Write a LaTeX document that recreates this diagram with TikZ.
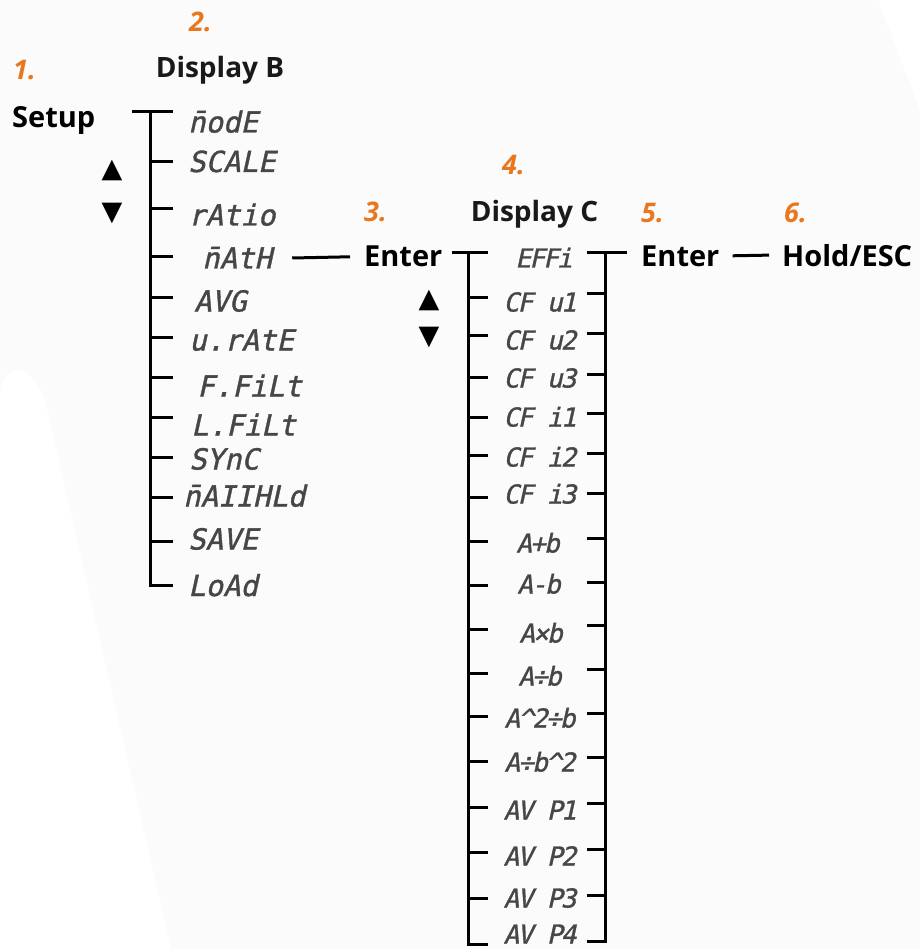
\documentclass[tikz,border=0pt]{standalone}
\usepackage{fontspec}
\setmainfont{Open Sans}
\newfontfamily\segfont{DejaVu Sans Mono}[FakeSlant=0.22,FakeBold=1.2]
\newfontfamily\segfontC{DejaVu Sans Mono}[FakeSlant=0.22,FakeBold=1.2,LetterSpace=-7]
\newfontfamily\symfont{DejaVu Sans}
\definecolor{numorange}{RGB}{232,119,30}
\definecolor{seggray}{RGB}{70,70,70}
\definecolor{headgray}{RGB}{25,25,25}
\definecolor{bgfaint}{RGB}{251,251,251}
\begin{document}
\begin{tikzpicture}[x=1pt,y=-1pt,
  numlabel/.style={font=\fontsize{27}{30}\selectfont\bfseries\itshape, text=numorange, inner sep=0pt, anchor=base west},
  head/.style={font=\fontsize{28}{32}\selectfont\bfseries, text=headgray, inner sep=0pt, anchor=base},
  keylabel/.style={font=\fontsize{29}{32}\selectfont\bfseries, inner sep=0pt, anchor=base west},
  segB/.style={font=\fontsize{29}{32}\selectfont\segfont, text=seggray, inner sep=0pt, anchor=west, text height=21pt, text depth=0pt},
  segC/.style={font=\fontsize{26}{28}\selectfont\segfontC, text=seggray, inner sep=0pt, anchor=center, text height=19pt, text depth=0pt},
  arrowsym/.style={font=\fontsize{27}{30}\selectfont\symfont, inner sep=0pt},
  treeline/.style={line width=3pt, line join=miter}]
\useasboundingbox (0,0) rectangle (920,949);
% faint background
\fill[bgfaint] (0,0) rectangle (920,949);
\fill[white] (878,0) -- (920,0) -- (920,110) -- cycle;
\fill[white] (0,949) -- (0,392) .. controls (4,362) and (32,360) .. (46,405) -- (171,949) -- cycle;

% step numbers
\node[numlabel] (n1) at (13,80) {1.};
\node[numlabel] (n2) at (189,32) {2.};
\node[numlabel] (n3) at (364,222) {3.};
\node[numlabel] (n4) at (502,175) {4.};
\node[numlabel] (n5) at (641,223) {5.};
\node[numlabel] (n6) at (784,223) {6.};

% headings and keys
\node[head] (dispB) at (220,78) {Display B};
\node[head] (dispC) at (534.5,222) {Display C};
\node[keylabel] (setup) at (12,128) {Setup};
\node[keylabel] (enter1) at (364,267) {Enter};
\node[keylabel] (enter2) at (641,266) {Enter};
\node[keylabel] (hold) at (782,266) {Hold/ESC};

% up/down arrows
\node[arrowsym] (upB) at (112,170) {▲};
\node[arrowsym] (downB) at (112,213) {▼};
\node[arrowsym] (upC) at (429,300) {▲};
\node[arrowsym] (downC) at (429,337) {▼};

% ---------- Display B tree ----------
\coordinate (bL) at (132,112);
\coordinate (bTop) at (150,112);
\coordinate (bR) at (173,112);
\coordinate (bBot) at (150,585);
\coordinate (bBotR) at (173,585);
\draw[treeline] (bL) -- (bR);
\draw[treeline] (bTop) -- (bBot) -- (bBotR);
\foreach \ty in {162,209,257,297,337,377,417,457,497,541}
  \draw[treeline] (150,\ty) -- ++(23,0);

\node[segB] (modeB)  at (188,122)   {n̄odE};
\node[segB] (scaleB) at (188,161.5) {SCALE};
\node[segB] (ratioB) at (188,215)   {rAtio};
\node[segB] (mathB)  at (202,258)   {n̄AtH};
\node[segB] (avgB)   at (194,301)   {AVG};
\node[segB] (vrateB) at (189,340)   {u.rAtE};
\node[segB] (ffiltB) at (197,386)   {F.FiLt};
\node[segB] (lfiltB) at (191,425)   {L.FiLt};
\node[segB] (syncB)  at (189,459)   {SYnC};
\node[segB] (maxB)   at (183,496)   {n̄AIIHLd};
\node[segB] (saveB)  at (188,539)   {SAVE};
\node[segB] (loadB)  at (188,585.5) {LoAd};

% math -> Enter -> Display C
\draw[treeline] ([xshift=20pt]mathB.east) -- ([xshift=-14pt]enter1.west);

% ---------- Display C tree ----------
\coordinate (cL) at (448,253);
\coordinate (cTop) at (468,253);
\coordinate (cR) at (488,253);
\coordinate (cBot) at (468,944);
\coordinate (cBotR) at (488,944);
\draw[treeline] ([xshift=9pt]enter1.east |- cL) -- (cR);
\draw[treeline] (cTop) -- (cBot) -- (cBotR);
\foreach \ty in {297,335,377,417,455,497,541,585,629,673,716,761,807,852,898}
  \draw[treeline] (468,\ty) -- ++(20,0);

\coordinate (dL) at (587,253);
\coordinate (dTop) at (605,253);
\coordinate (dBot) at (605,941);
\coordinate (dBotL) at (587,941);
\draw[treeline] (dL) -- ([xshift=-14pt]enter2.west |- dL);
\draw[treeline] (dTop) -- (dBot) -- (dBotL);
\foreach \ty in {293,333,374,413,453,493,538,582,625,669,713,757,803,849,895}
  \draw[treeline] (587,\ty) -- ++(18,0);

\node[segC] (effiC) at (544,258) {EFFi};
\node[segC] (cfu1C) at (540,302) {CF u1};
\node[segC] (cfu2C) at (540,340) {CF u2};
\node[segC] (cfu3C) at (540,378) {CF u3};
\node[segC] (cfi1C) at (540,417) {CF i1};
\node[segC] (cfi2C) at (540,457) {CF i2};
\node[segC] (cfi3C) at (540,494) {CF i3};
\node[segC] (addC)  at (538,543) {A+b};
\node[segC] (subC)  at (539,584) {A-b};
\node[segC] (mulC)  at (541,633) {A×b};
\node[segC] (divC)  at (540,676) {A÷b};
\node[segC] (sqdC)  at (540,718) {A\^{}2÷b};
\node[segC] (dsqC)  at (540,762) {A÷b\^{}2};
\node[segC] (avp1C) at (540,810) {AV P1};
\node[segC] (avp2C) at (540,856) {AV P2};
\node[segC] (avp3C) at (540,898) {AV P3};
\node[segC] (avp4C) at (540,934) {AV P4};

% Enter -> Hold/ESC
\draw[treeline] ([xshift=13pt]enter2.east) -- ([xshift=-13pt]hold.west);
\end{tikzpicture}
\end{document}
